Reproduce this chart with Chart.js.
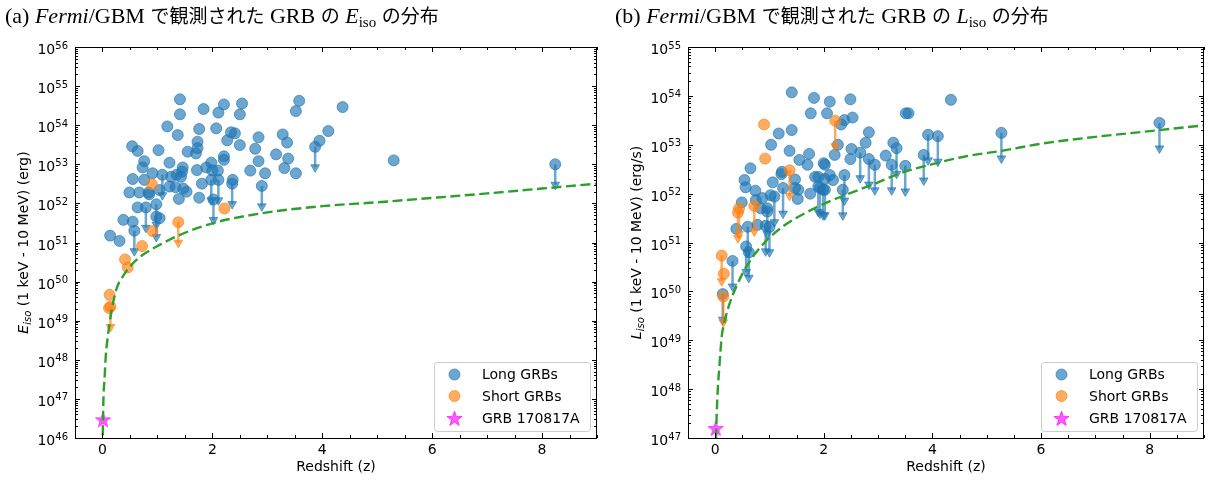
<!DOCTYPE html>
<html>
<head>
<meta charset="utf-8">
<script src="https://cdn.jsdelivr.net/npm/chart.js@4/dist/chart.umd.min.js"></script>
<style>
  body { margin: 0; background: #fff; }
  #wrap { position: relative; width: 1213px; height: 483px; overflow: hidden; }
  canvas { position: absolute; top: 0; }
  .ttl { position: absolute; top: 3px; font-family: "Liberation Serif", "Noto Sans CJK JP", serif; font-size: 22px; line-height: 26px; white-space: nowrap; color: #000; }
  .ttl i { font-style: italic; }
  .ttl .cjk { font-size: 19px; }
  .ttl sub { font-size: 15px; font-style: normal; vertical-align: -4px; line-height: 0; }
</style>
</head>
<body>
<div id="wrap">
  <canvas id="chartE" width="606" height="483" style="left:0"></canvas>
  <canvas id="chartL" width="607" height="483" style="left:606px"></canvas>
  <div class="ttl" style="left:5px">(a) <i>Fermi</i>/GBM <span class="cjk">で観測された</span> GRB <span class="cjk">の</span> <i>E</i><sub>iso</sub> <span class="cjk">の分布</span></div>
  <div class="ttl" style="left:615px">(b) <i>Fermi</i>/GBM <span class="cjk">で観測された</span> GRB <span class="cjk">の</span> <i>L</i><sub>iso</sub> <span class="cjk">の分布</span></div>
</div>
<script>
// ---- data ----
const xTicks = [0, 2, 4, 6, 8];

// (a) E_iso
const longZ_a = [1.41,1.41,1.84,2.21,2.11,2.54,2.50,3.58,3.52,4.37,
  1.18,1.37,1.76,2.07,2.34,2.41,2.27,1.73,1.73,1.55,
  1.70,1.02,0.54,0.64,2.50,2.84,2.78,3.28,3.36,3.16,
  3.38,3.95,3.87,4.11,2.21,2.21,1.98,1.89,1.72,2.10,
  2.00,1.46,1.45,1.22,0.76,0.73,0.91,1.09,1.25,1.35,
  1.43,0.55,0.76,0.85,1.04,1.22,1.33,1.47,1.53,1.39,
  1.76,1.81,1.98,2.11,2.37,2.36,2.02,0.49,0.67,0.84,
  0.64,0.79,0.98,0.98,1.04,0.38,0.55,0.58,0.14,0.31,
  2.69,2.84,2.96,2.90,3.31,3.52,5.30,8.24];
const longE_a = [4.6e54,1.9e54,2.6e54,3.4e54,2.1e54,3.6e54,1.9e54,4.2e54,2.3e54,2.9e54,
  9.3e53,5.6e53,8.0e53,8.3e53,6.6e53,6.2e53,4.1e53,3.8e53,2.6e53,2.1e53,
  1.9e53,2.3e53,2.9e53,2.2e53,3.1e53,4.9e53,2.5e53,5.8e53,3.6e53,1.8e53,
  1.4e53,4.0e53,2.8e53,7.1e53,1.6e53,1.3e53,1.1e53,8.3e52,7.1e52,6.9e52,
  7.0e52,8.3e52,6.5e52,1.1e53,1.2e53,8.3e52,5.9e52,5.4e52,4.8e52,5.4e52,
  4.8e52,4.2e52,4.0e52,1.7e52,2.2e52,2.7e52,2.6e52,2.4e52,2.0e52,1.3e52,
  1.4e52,3.2e52,4.0e52,4.0e52,4.0e52,3.2e52,1.26e52,1.9e52,1.9e52,1.9e52,
  7.9e51,7.9e51,9.5e51,4.6e51,4.2e51,3.8e51,3.4e51,2.0e51,1.5e51,1.1e51,
  6.9e52,1.2e53,5.9e52,2.8e52,8.0e52,5.9e52,1.26e53,1.0e53];
const longUL_a = [0,0,0,0,0,0,0,0,0,0, 0,0,0,0,0,0,0,0,0,0, 0,0,0,0,0,0,0,0,0,0,
  0,0,1,0,0,0,0,0,0,0, 0,0,0,0,0,0,0,1,0,0, 0,0,0,0,0,0,0,0,0,0,
  0,0,1,1,0,1,1,0,0,0, 0,1,1,1,0,0,0,1,0,0, 0,0,0,1,0,0,0,1];
const shortZ_a = [0.90,0.91,1.38,0.72,0.41,0.46,0.13,0.145,0.12,2.22];
const shortE_a = [3.1e52,1.95e51,3.3e51,8.1e50,3.7e50,2.3e50,4.6e49,2.3e49,2.1e49,7.4e51];
const shortUL_a = [0,0,1,0,0,0,0,1,0,0];
const star_a = [0.0098, 3.0e46];
const thrZ_a = [0.004,0.006,0.01,0.02,0.036,0.06,0.097,0.158,0.25,0.37,0.52,0.73,1.04,1.4,2.0,2.9,4.0,5.0,6.0,7.0,8.0,9.0];
const thrE_a = [5e45,1.07e46,3.2e46,1.26e47,3.0e47,1.26e48,3.9e48,1.55e49,6.2e49,1.35e50,2.6e50,4.8e50,8.7e50,1.55e51,3.1e51,5.6e51,8.5e51,1.07e52,1.38e52,1.8e52,2.4e52,3.2e52];

// (b) L_iso
const longZ_b = [1.41,1.82,2.11,2.49,4.34,1.76,2.06,2.38,2.53,2.32,
  3.51,3.56,1.17,1.41,1.03,1.37,0.65,0.54,0.56,0.74,
  1.55,1.73,1.70,1.06,1.22,1.47,1.53,2.00,2.20,2.26,
  2.51,2.49,2.67,2.77,2.83,2.83,2.94,3.14,3.28,3.34,
  3.25,3.50,3.92,4.10,3.84,1.84,1.90,2.02,2.11,2.17,
  2.38,1.99,1.25,1.09,0.87,0.75,0.96,0.49,0.39,0.60,
  0.84,0.93,1.75,0.32,0.14,0.57,0.62,0.96,1.00,0.78,
  5.27,8.18,1.23,1.02,1.47,1.52,1.90,2.02,1.93,2.02,
  2.35];
const longL_b = [1.18e54,9.1e53,7.6e53,8.5e53,8.3e53,4.4e53,4.4e53,3.2e53,3.6e53,2.6e53,
  4.4e53,4.4e53,1.7e53,2.0e53,1.0e53,7.5e52,3.3e52,1.9e52,1.35e52,1.15e52,
  4.9e52,6.5e52,3.9e52,1.7e52,2.5e52,1.95e52,1.2e52,4.2e52,6.2e52,1.0e53,
  8.2e52,5.1e52,6.9e52,1.1e53,1.8e53,5.1e52,3.9e52,6.0e52,1.1e53,8.5e52,
  3.9e52,3.7e52,1.6e53,1.5e53,6.2e52,2.2e52,1.4e52,2.0e52,2.4e52,1.9e52,
  2.4e52,1.2e52,1.3e52,8.7e51,8.1e51,7.4e51,5.0e51,6.6e51,1.9e51,2.1e51,
  5.0e51,2.2e51,1.0e52,4.2e50,8.8e49,8.3e50,6.3e50,4.3e51,2.1e51,2.3e51,
  1.75e53,2.8e53,2.8e52,9.3e51,1.3e52,7.8e51,2.2e52,3.9e52,1.3e52,1.2e52,
  1.2e52];
const longUL_b = [0,0,0,0,0,0,0,0,0,0, 0,0,0,0,0,0,0,0,0,0, 0,0,0,0,0,0,0,0,0,0,
  0,0,1,0,0,1,1,0,0,1, 1,1,1,1,1,0,1,0,0,0, 1,1,1,1,0,0,1,0,0,1,
  0,1,0,1,1,1,1,0,1,0, 1,1,0,0,0,0,0,0,1,1, 1];
const shortZ_b = [0.90,0.92,2.21,1.37,0.44,0.42,0.72,0.12,0.16,0.15];
const shortL_b = [2.6e53,5.2e52,3.1e53,3.0e52,5.0e51,4.1e51,5.6e51,5.4e50,2.3e50,7.8e49];
const shortUL_b = [0,0,1,1,1,1,1,1,0,1];
const star_b = [0.0098, 1.6e47];
const thrZ_b = [0.006,0.018,0.042,0.078,0.12,0.18,0.27,0.39,0.54,0.72,0.99,1.29,1.71,2.14,2.56,2.98,3.4,4.0,4.6,5.3,6,7,8,9];
const thrL_b = [1.26e46,1.07e47,7.1e47,2.9e48,1.17e49,2.6e49,5.8e49,1.26e50,2.75e50,5.6e50,1.23e51,2.3e51,4.3e51,7.2e51,1.1e52,1.66e52,2.6e52,4.0e52,5.75e52,7.6e52,1.05e53,1.45e53,1.9e53,2.5e53];

// ---- style ----
const BLUE = 'rgba(31,119,180,0.65)';
const ORANGE = 'rgba(255,127,14,0.65)';
const MAGENTA = 'rgba(255,0,255,0.65)';
const GREEN = '#2ca02c';
const ARROW_END = 0.3;           // upper-limit arrows run down to 0.3 x value
const FONT = {family: 'DejaVu Sans', size: 14};

function starPath(g, cx, cy, R) {
  const r = R * 0.4;
  g.beginPath();
  for (let i = 0; i < 10; i++) {
    const ang = -Math.PI / 2 + i * Math.PI / 5;
    const rr = i % 2 ? r : R;
    g.lineTo(cx + rr * Math.cos(ang), cy + rr * Math.sin(ang));
  }
  g.closePath();
}
function starImage(R) {
  const c = document.createElement('canvas');
  const s = Math.ceil(2 * R + 4);
  c.width = c.height = s;
  const g = c.getContext('2d');
  starPath(g, s / 2, s / 2 + 1, R);
  g.fillStyle = MAGENTA; g.fill();
  g.strokeStyle = MAGENTA; g.lineWidth = 1; g.stroke();
  return c;
}
const STAR = starImage(8);

// frame, inward ticks on all sides, 10^n tick labels, y title, legend
const deco = {
  id: 'deco',
  afterDatasetsDraw(chart, args, o) {
    const {ctx, chartArea: a, scales: {x, y}} = chart;
    ctx.save();
    ctx.strokeStyle = '#000';
    ctx.lineWidth = 1;
    ctx.beginPath();
    const vt = (v, len) => {
      const px = Math.round(x.getPixelForValue(v)) + 0.5;
      ctx.moveTo(px, a.bottom); ctx.lineTo(px, a.bottom - len);
      ctx.moveTo(px, a.top); ctx.lineTo(px, a.top + len);
    };
    const ht = (v, len) => {
      const py = Math.round(y.getPixelForValue(v)) + 0.5;
      ctx.moveTo(a.left, py); ctx.lineTo(a.left + len, py);
      ctx.moveTo(a.right, py); ctx.lineTo(a.right - len, py);
    };
    for (let v = -0.5; v <= 9; v += 0.5) vt(v, xTicks.includes(v) ? 5 : 3);
    for (let e = o.yMin; e <= o.yMax; e++) {
      ht(Math.pow(10, e), 5);
      if (e < o.yMax) for (let k = 2; k < 10; k++) ht(k * Math.pow(10, e), 3);
    }
    ctx.stroke();
    ctx.strokeRect(a.left + 0.5, a.top + 0.5, a.width - 1, a.height);

    // y tick labels as 10 with a raised exponent
    ctx.fillStyle = '#000';
    ctx.textBaseline = 'alphabetic';
    ctx.textAlign = 'right';
    for (let e = o.yMin; e <= o.yMax; e++) {
      const py = y.getPixelForValue(Math.pow(10, e));
      const right = a.left - 7;
      ctx.font = '10px "DejaVu Sans"';
      const we = ctx.measureText(String(e)).width;
      ctx.fillText(String(e), right, py + 1.5);
      ctx.font = '14px "DejaVu Sans"';
      ctx.fillText('10', right - we, py + 7);
    }
    ctx.textAlign = 'left';

    // y axis title with italic subscript
    const cy = (a.top + a.bottom) / 2;
    ctx.translate(a.left - 52, cy);
    ctx.rotate(-Math.PI / 2);
    const big = 'italic 14px "DejaVu Sans"', small = 'italic 10px "DejaVu Sans"', norm = '14px "DejaVu Sans"';
    ctx.font = big; const w1 = ctx.measureText(o.sym).width;
    ctx.font = small; const w2 = ctx.measureText('iso').width;
    ctx.font = norm; const w3 = ctx.measureText(o.rest).width;
    let sx = -(w1 + w2 + w3) / 2;
    ctx.font = big; ctx.fillText(o.sym, sx, 5); sx += w1;
    ctx.font = small; ctx.fillText('iso', sx, 8); sx += w2;
    ctx.font = norm; ctx.fillText(o.rest, sx, 5);
    ctx.restore();
  },
  afterDraw(chart) {
    const {ctx, chartArea: a} = chart;
    const w = 156, h = 69;
    const L = Math.round(a.right - 7 - w), T = Math.round(a.bottom - 7 - h);
    ctx.save();
    ctx.beginPath();
    ctx.roundRect(L + 0.5, T + 0.5, w, h, 3);
    ctx.fillStyle = 'rgba(255,255,255,0.8)'; ctx.fill();
    ctx.strokeStyle = '#cccccc'; ctx.lineWidth = 1; ctx.stroke();
    const rows = [[BLUE, 'Long GRBs'], [ORANGE, 'Short GRBs'], [MAGENTA, 'GRB 170817A']];
    const ys = [12.5, 34, 56];
    ctx.font = '14px "DejaVu Sans"';
    ctx.textBaseline = 'middle';
    rows.forEach(([c, t], i) => {
      const mx = L + 20.5, my = T + ys[i];
      ctx.fillStyle = c; ctx.strokeStyle = c; ctx.lineWidth = 1;
      if (i < 2) { ctx.beginPath(); ctx.arc(mx, my, 5.5, 0, Math.PI * 2); ctx.fill(); ctx.stroke(); }
      else { starPath(ctx, mx, my + 1, 8); ctx.fill(); ctx.stroke(); }
      ctx.fillStyle = '#000';
      ctx.fillText(t, L + 48, my + 1);
    });
    ctx.restore();
  }
};

function buildPanel(id, p) {
  const pts = (z, v) => z.map((x, i) => ({x, y: v[i]}));
  const shafts = (z, v, ul) => {
    const out = [];
    z.forEach((x, i) => { if (ul[i]) out.push({x, y: v[i]}, {x, y: v[i] * ARROW_END}, {x, y: null}); });
    return out;
  };
  const heads = (z, v, ul) => z.map((x, i) => ul[i] ? {x, y: v[i] * ARROW_END} : null).filter(Boolean);
  const exps = [];
  for (let e = p.yMin; e <= p.yMax; e++) exps.push(e);

  const group = (z, v, ul, color, base) => [
    {data: heads(z, v, ul), pointStyle: 'triangle', rotation: 180, pointRadius: 5,
     backgroundColor: color, borderColor: color, borderWidth: 1, order: base},
    {data: shafts(z, v, ul), showLine: true, spanGaps: false, borderColor: color, borderWidth: 2.5,
     borderCapStyle: 'butt', pointRadius: 0, order: base + 1},
    {data: pts(z, v), pointRadius: 5.5, backgroundColor: color, borderColor: color, borderWidth: 1, order: base + 2}
  ];

  return new Chart(document.getElementById(id), {
    type: 'scatter',
    data: {
      datasets: [
        {data: pts(p.thrZ, p.thrV), showLine: true, borderColor: GREEN, borderWidth: 2.4,
         borderDash: [10, 4.5], pointRadius: 0, cubicInterpolationMode: 'monotone', order: 0},
        {data: [{x: p.star[0], y: p.star[1]}], pointStyle: STAR, pointRadius: 8, order: 1},
        ...group(p.shortZ, p.shortV, p.shortUL, ORANGE, 2),
        ...group(p.longZ, p.longV, p.longUL, BLUE, 5)
      ]
    },
    options: {
      responsive: false,
      animation: false,
      events: [],
      layout: {padding: {top: 47, right: p.padRight, left: 0, bottom: 0}},
      plugins: {legend: {display: false}, tooltip: {enabled: false},
        deco: {yMin: p.yMin, yMax: p.yMax, sym: p.sym, rest: p.rest}},
      scales: {
        x: {
          type: 'linear', min: -0.5, max: 9,
          afterBuildTicks: s => { s.ticks = xTicks.map(v => ({value: v})); },
          afterFit: s => { s.height = 45; },
          grid: {display: false, drawTicks: false},
          border: {display: false},
          ticks: {font: FONT, color: '#000', padding: 4, maxRotation: 0, autoSkip: false},
          title: {display: true, text: 'Redshift (z)', font: FONT, color: '#000', padding: {top: 0, bottom: 7}}
        },
        y: {
          type: 'logarithmic', min: Math.pow(10, p.yMin), max: Math.pow(10, p.yMax),
          afterBuildTicks: s => { s.ticks = exps.map(e => ({value: Math.pow(10, e)})); },
          afterFit: s => { s.width = p.axisWidth; },
          grid: {display: false, drawTicks: false},
          border: {display: false},
          ticks: {display: false}
        }
      }
    },
    plugins: [deco]
  });
}

buildPanel('chartE', {
  longZ: longZ_a, longV: longE_a, longUL: longUL_a,
  shortZ: shortZ_a, shortV: shortE_a, shortUL: shortUL_a,
  star: star_a, thrZ: thrZ_a, thrV: thrE_a,
  yMin: 46, yMax: 56, axisWidth: 75, padRight: 6,
  sym: 'E', rest: ' (1 keV - 10 MeV) (erg)'
});
buildPanel('chartL', {
  longZ: longZ_b, longV: longL_b, longUL: longUL_b,
  shortZ: shortZ_b, shortV: shortL_b, shortUL: shortUL_b,
  star: star_b, thrZ: thrZ_b, thrV: thrL_b,
  yMin: 47, yMax: 55, axisWidth: 82, padRight: 1,
  sym: 'L', rest: ' (1 keV - 10 MeV) (erg/s)'
});
</script>
</body>
</html>
